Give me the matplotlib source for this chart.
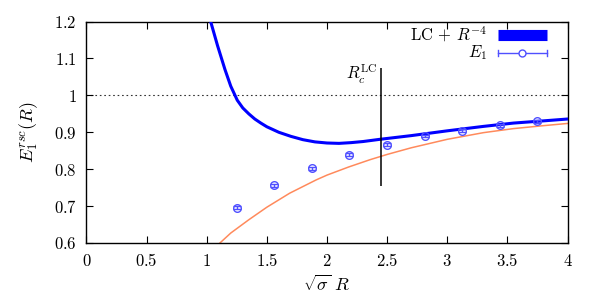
import matplotlib
matplotlib.use("Agg")
import matplotlib.pyplot as plt
from matplotlib.lines import Line2D

plt.rcParams['mathtext.fontset'] = 'cm'
plt.rcParams['font.family'] = ['DejaVu Serif']

# data points E_1
e1_x = [1.249, 1.562, 1.875, 2.187, 2.499, 2.812, 3.124, 3.436, 3.749]
e1_y = [0.696, 0.757, 0.803, 0.839, 0.866, 0.890, 0.904, 0.919, 0.930]
e1_err = [0.004, 0.004, 0.004, 0.004, 0.004, 0.004, 0.004, 0.004, 0.004]

# LC curve (orange)
lc_x = [1.11, 1.20, 1.35, 1.50, 1.69, 1.91, 2.00, 2.18, 2.36, 2.50, 2.70, 3.00, 3.30, 3.55, 3.80, 4.00]
lc_y = [0.600, 0.627, 0.663, 0.697, 0.735, 0.771, 0.784, 0.806, 0.826, 0.840, 0.858, 0.881, 0.899, 0.910, 0.918, 0.924]

# LC + R^-4 curve (blue)
fit_x = [1.033, 1.09, 1.152, 1.20, 1.254, 1.30, 1.35, 1.40, 1.45, 1.50, 1.60, 1.70, 1.80, 1.90, 2.00, 2.10, 2.20, 2.30, 2.44, 2.70, 3.00, 3.30, 3.55, 3.80, 4.00]
fit_y = [1.200, 1.135, 1.070, 1.025, 0.987, 0.966, 0.950, 0.936, 0.925, 0.915, 0.900, 0.889, 0.880, 0.874, 0.871, 0.870, 0.872, 0.875, 0.881, 0.891, 0.904, 0.916, 0.925, 0.931, 0.936]

rc_x = 2.449
rc_y = [0.754, 1.073]

xticks = [0, 0.5, 1, 1.5, 2, 2.5, 3, 3.5, 4]
xtick_labels = ['$0$', '$0.5$', '$1$', '$1.5$', '$2$', '$2.5$', '$3$', '$3.5$', '$4$']
yticks = [0.6, 0.7, 0.8, 0.9, 1.0, 1.1, 1.2]
ytick_labels = ['$0.6$', '$0.7$', '$0.8$', '$0.9$', '$1$', '$1.1$', '$1.2$']

fig = plt.figure(figsize=(6, 3), dpi=100)
ax = fig.add_axes([0.144, 0.19, 0.802, 0.738])

blue = '#0000ff'
pt_col = '#5050ff'
orange = '#ff8a5c'

ax.axhline(1.0, color='#333333', lw=0.8, ls=(0, (1.5, 2.5)), zorder=1)
ax.plot(lc_x, lc_y, color=orange, lw=1.1, zorder=2)
ax.plot(fit_x, fit_y, color=blue, lw=2.2, zorder=3, solid_joinstyle='round')
ax.errorbar(e1_x, e1_y, yerr=e1_err, fmt='o', mfc='none', mec=pt_col, ms=5.5,
            mew=1.0, ecolor=pt_col, elinewidth=1.0, capsize=3, capthick=1.0, zorder=4)
ax.vlines(rc_x, rc_y[0], rc_y[1], color='black', lw=1.1, zorder=3)
ax.text(rc_x - 0.03, 1.057, r'$R_c^{\mathrm{LC}}$', ha='right', va='center', fontsize=12)

ax.set_xlim(0, 4)
ax.set_ylim(0.6, 1.2)
ax.set_xticks(xticks)
ax.set_xticklabels(xtick_labels, fontsize=12)
ax.set_yticks(yticks)
ax.set_yticklabels(ytick_labels, fontsize=12)
ax.tick_params(direction='in', top=True, right=True, length=5, width=0.8, pad=7)
for s in ax.spines.values():
    s.set_linewidth(1.0)

ax.set_xlabel(r'$\sqrt{\sigma}\ R$', fontsize=13, labelpad=4)
ax.set_ylabel(r'$E_1^{rsc}(R)$', fontsize=13, labelpad=10)

# legend (gnuplot-style, drawn manually)
tr = ax.transAxes
ax.text(0.833, 0.939, r'$\mathrm{LC}\,+\,R^{-4}$', transform=tr, ha='right', va='center', fontsize=12)
ax.add_line(Line2D([0.855, 0.957], [0.939, 0.939], transform=tr, color=blue, lw=8, solid_capstyle='butt'))
ax.text(0.833, 0.858, r'$E_1$', transform=tr, ha='right', va='center', fontsize=12)
ax.add_line(Line2D([0.855, 0.957], [0.858, 0.858], transform=tr, color=pt_col, lw=1.0))
ax.add_line(Line2D([0.855, 0.855], [0.843, 0.873], transform=tr, color=pt_col, lw=1.0))
ax.add_line(Line2D([0.957, 0.957], [0.843, 0.873], transform=tr, color=pt_col, lw=1.0))
ax.add_line(Line2D([0.906], [0.858], transform=tr, marker='o', mfc='white', mec=pt_col, ms=5, mew=1.0))

fig.savefig('out.png', dpi=100)
